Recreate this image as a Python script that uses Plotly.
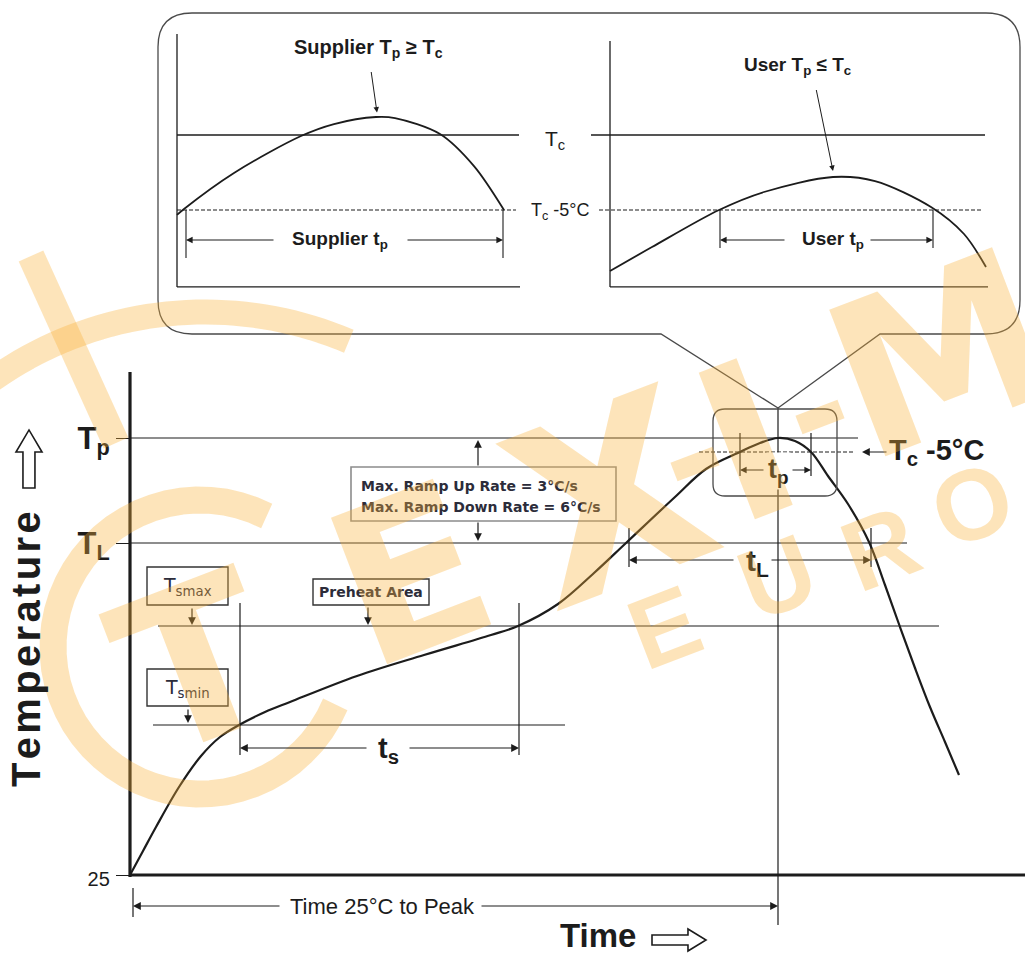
import math
import plotly.graph_objects as go

W, H = 1025, 954
INK = "#1c1c1c"
SANS = "Liberation Sans, Arial"
WM = "rgba(249,178,58,0.35)"   # watermark tint

# ---- main reflow profile (schematic: time in s, temperature in degC) ----
profile_time = [0, 6.5, 13, 24.5, 35.5, 45, 54.5, 67.5, 80, 113.5, 147, 180.5,
                194, 214, 232, 248, 272.5, 288, 305, 315, 324, 332.5, 340.5,
                349, 359, 369.5, 377.5, 385, 392.5, 400, 407.5, 414.5]
profile_temp = [25, 37, 49, 69, 84.5, 94, 100, 106.5, 111.5, 124.5, 135, 145,
                149.5, 160.5, 176, 191, 214, 228, 236.5, 241, 243.5, 242, 236.5,
                224.5, 210.5, 191.5, 170, 149, 128.5, 109, 91.5, 75]

# temperature levels
T_AMB, T_SMIN, T_SMAX, T_L, T_P, T_C5 = 25, 100, 149.5, 191, 243.5, 236.5
temp_ticks = [T_AMB, T_L, T_P]
temp_tick_text = ['<span style="font-size:20px;font-weight:normal">25</span>',
                  "<b>T<sub>L</sub></b>", "<b>T<sub>p</sub></b>"]

# time markers
ts_span = [55, 194.5]
tl_span = [249.5, 370.5]
tp_span = [305, 340.5]
t_peak = 324

# ---- zoomed insets (supplier / user), time from each inset origin ----
sup_time = [0, 7, 57, 124, 157, 199, 218, 263, 297, 327]
sup_temp = [239.67, 240.07, 242.47, 244.93, 245.73, 246.2, 246.13, 245.07, 242.93, 240.0]
user_time = [0, 42, 109, 154, 223, 265, 321, 354, 376]
user_temp = [235.93, 237.53, 240.0, 241.2, 242.2, 241.93, 240.2, 238.4, 236.2]
T_C, T_C_5 = 245, 240
sup_tp = [9, 326]
user_tp = [110, 323]


def P(px, py):
    return px / W, 1 - py / H


def seg(x0, y0, x1, y1, xref="x", yref="y", width=1.2, color=INK, dash=None):
    d = dict(type="line", x0=x0, y0=y0, x1=x1, y1=y1, xref=xref, yref=yref,
             line=dict(color=color, width=width))
    if dash:
        d["line"]["dash"] = dash
    return d


def arrow(xt, yt, xh, yh, xref="x", yref="y", size=1.3, width=1.2):
    return dict(x=xh, y=yh, ax=xt, ay=yt, xref=xref, yref=yref, axref=xref, ayref=yref,
                text="", showarrow=True, arrowhead=2, arrowsize=size, arrowwidth=width,
                arrowcolor=INK, standoff=0)


def label(x, y, text, size, xref="x", yref="y", family=SANS, bold=False,
          color=INK, bg=None, xanchor="center"):
    d = dict(x=x, y=y, xref=xref, yref=yref, text=text, showarrow=False,
             xanchor=xanchor, yanchor="middle",
             font=dict(family=family, size=size, color=color,
                       weight="bold" if bold else "normal"))
    if bg:
        d["bgcolor"] = bg
    return d


def rrect(x0, y0, x1, y1, r):
    return (f"M {x0 + r},{y1} L {x1 - r},{y1} Q {x1},{y1} {x1},{y1 - r} "
            f"L {x1},{y0 + r} Q {x1},{y0} {x1 - r},{y0} L {x0 + r},{y0} "
            f"Q {x0},{y0} {x0},{y0 + r} L {x0},{y1 - r} Q {x0},{y1} {x0 + r},{y1} Z")


def arc(cx, cy, r, a0, a1, n=48):
    pts = []
    for i in range(n + 1):
        a = math.radians(a0 + (a1 - a0) * i / n)
        pts.append(P(cx + r * math.cos(a), cy - r * math.sin(a)))
    return "M " + " L ".join(f"{x:.4f},{y:.4f}" for x, y in pts)


def poly(points):
    pts = [P(x, y) for x, y in points]
    return "M " + " L ".join(f"{x:.4f},{y:.4f}" for x, y in pts) + " Z"


fig = go.Figure()

# main axes lines and profile
fig.add_trace(go.Scatter(x=[0, 0], y=[T_AMB - 1, 276.5], mode="lines",
                         line=dict(color=INK, width=3.2)))
fig.add_trace(go.Scatter(x=[0, 447.5], y=[T_AMB, T_AMB], mode="lines",
                         line=dict(color=INK, width=3.2)))
fig.add_trace(go.Scatter(x=profile_time, y=profile_temp, mode="lines",
                         line=dict(color=INK, width=2.2, shape="spline", smoothing=1.0)))

# inset curves
fig.add_trace(go.Scatter(x=sup_time, y=sup_temp, xaxis="x2", yaxis="y2", mode="lines",
                         line=dict(color=INK, width=1.8, shape="spline", smoothing=0.9)))
fig.add_trace(go.Scatter(x=user_time, y=user_temp, xaxis="x3", yaxis="y3", mode="lines",
                         line=dict(color=INK, width=1.8, shape="spline", smoothing=0.9)))

shapes = []
# level lines
shapes += [
    seg(0, T_P, 364, T_P),
    seg(0, T_L, 388.5, T_L),
    seg(14, T_SMAX, 404.5, T_SMAX),
    seg(11.5, T_SMIN, 217.5, T_SMIN),
    seg(284.5, T_C5, 362, T_C5, dash="4px,2px"),
]
# dimension ticks
for t in ts_span:
    shapes.append(seg(t, 161, t, 85))
for t in tl_span:
    shapes.append(seg(t, 198.5, t, 179))
for t in tp_span:
    shapes.append(seg(t, 246, t, 224.5))
shapes.append(seg(t_peak, 258.5, t_peak, 0))
shapes.append(seg(1.5, 18.5, 1.5, 4))

# boxes
shapes.append(dict(type="rect", x0=110.5, y0=202, x1=243, y1=229, xref="x", yref="y",
                   line=dict(color="#8c8c8c", width=1.6), fillcolor="white"))
shapes.append(dict(type="rect", x0=8.5, y0=160, x1=49, y1=179, xref="x", yref="y",
                   line=dict(color="#333", width=1.4), fillcolor="white"))
shapes.append(dict(type="rect", x0=8.5, y0=109.5, x1=49, y1=128, xref="x", yref="y",
                   line=dict(color="#333", width=1.4), fillcolor="white"))
shapes.append(dict(type="rect", x0=91.5, y0=160, x1=149.5, y1=173, xref="x", yref="y",
                   line=dict(color="#333", width=1.4), fillcolor="white"))

# callout bubble and peak window
x0, x1, yb, yt, r = 14, 445, 295.5, 456, 17
callout = (f"M {x0 + r},{yt} L {x1 - r},{yt} Q {x1},{yt} {x1},{yt - r} "
           f"L {x1},{yb + r} Q {x1},{yb} {x1 - r},{yb} L 375,{yb} L {t_peak},258.5 "
           f"L 265.5,{yb} L {x0 + r},{yb} Q {x0},{yb} {x0},{yb + r} "
           f"L {x0},{yt - r} Q {x0},{yt} {x0 + r},{yt} Z")
shapes.append(dict(type="path", path=callout, xref="x", yref="y",
                   line=dict(color="#4a4a4a", width=1.3)))
shapes.append(dict(type="path", path=rrect(291.5, 214.5, 353.5, 258, 6), xref="x", yref="y",
                   line=dict(color="#4a4a4a", width=1.3)))

# supplier inset frame
shapes += [
    seg(0, 251.73, 0, 234.87, "x2", "y2", 1.3),
    seg(0, 234.87, 343, 234.87, "x2", "y2", 1.3),
    seg(0, T_C, 342, T_C, "x2", "y2", 1.3),
    seg(0, T_C_5, 339, T_C_5, "x2", "y2", 1.1, dash="4px,2px"),
]
for t in sup_tp:
    shapes.append(seg(t, T_C_5, t, 236.8, "x2", "y2", 1.1))
# user inset frame
shapes += [
    seg(0, 251.27, 0, 234.87, "x3", "y3", 1.3),
    seg(0, 234.87, 378, 234.87, "x3", "y3", 1.3),
    seg(-19, T_C, 375, T_C, "x3", "y3", 1.3),
    seg(-11, T_C_5, 371, T_C_5, "x3", "y3", 1.1, dash="4px,2px"),
]
for t in user_tp:
    shapes.append(seg(t, T_C_5, t, 237.47, "x3", "y3", 1.1))

# hollow axis arrows
shapes.append(dict(type="path", xref="paper", yref="paper", line=dict(color=INK, width=1.6),
                   path=poly([(23, 488), (23, 452), (16, 452), (29, 430), (42, 452), (35, 452), (35, 488)])))
shapes.append(dict(type="path", xref="paper", yref="paper", line=dict(color=INK, width=1.6),
                   path=poly([(652, 935), (688, 935), (688, 929), (706, 940), (688, 951), (688, 945), (652, 945)])))

# watermark strokes
shapes.append(dict(type="path", xref="paper", yref="paper", path=arc(200, 647, 147, 63, 337),
                   line=dict(color=WM, width=27)))
shapes.append(dict(type="path", xref="paper", yref="paper", path=arc(205, 680, 368, 67, 140),
                   line=dict(color=WM, width=25)))
for (ax_, ay_), (bx_, by_), w in [((31, 256), (116, 443), 27),
                                  ((674, 472), (716, 456), 20),
                                  ((799, 425), (841, 409), 20)]:
    xa, ya = P(ax_, ay_)
    xb, yb2 = P(bx_, by_)
    shapes.append(dict(type="line", xref="paper", yref="paper", x0=xa, y0=ya, x1=xb, y1=yb2,
                       line=dict(color=WM, width=w)))

ann = []
# dimension arrows
ann += [arrow(119, 88.5, ts_span[0], 88.5), arrow(139, 88.5, ts_span[1], 88.5),
        arrow(302.5, 182.5, tl_span[0], 182.5), arrow(320, 182.5, tl_span[1], 182.5),
        arrow(317.5, 227.5, tp_span[0], 227.5, size=1.1), arrow(330.5, 227.5, tp_span[1], 227.5, size=1.1),
        arrow(75.5, 9.5, 1.5, 9.5), arrow(175, 9.5, t_peak, 9.5),
        arrow(174, 229, 174, 242.5), arrow(174, 202, 174, 192),
        arrow(31, 159, 31, 150), arrow(29, 108.5, 29, 101), arrow(119, 159.5, 119, 150),
        arrow(379, T_C5, 366, T_C5)]
# inset arrows
ann += [arrow(98, 238, sup_tp[0], 238, "x2", "y2", 1.2, 1.1),
        arrow(229, 238, sup_tp[1], 238, "x2", "y2", 1.2, 1.1),
        arrow(176, 238, user_tp[0], 238, "x3", "y3", 1.2, 1.1),
        arrow(259, 238, user_tp[1], 238, "x3", "y3", 1.2, 1.1),
        arrow(194, 249.3, 200, 246.5, "x2", "y2", 1.1, 1.0),
        arrow(206, 248.1, 223, 242.6, "x3", "y3", 1.1, 1.0)]

# main labels
ann += [
    label(114.5, 219.5, "Max. Ramp Up Rate = 3°C/s", 14, family="DejaVu Sans", bold=True,
          color="#2c2c3a", xanchor="left"),
    label(114.5, 209, "Max. Ramp Down Rate = 6°C/s", 14, family="DejaVu Sans", bold=True,
          color="#2c2c3a", xanchor="left"),
    label(120.5, 166.5, "Preheat Area", 14, family="DejaVu Sans", bold=True, color="#2c2c3a"),
    label(28.5, 169.5, "T<sub>smax</sub>", 19, family="DejaVu Sans", color="#2c2c3a"),
    label(28.5, 118.5, "T<sub>smin</sub>", 19, family="DejaVu Sans", color="#2c2c3a"),
    label(129, 87.5, "t<sub>s</sub>", 29, bold=True),
    label(313.5, 181.5, "t<sub>L</sub>", 30, bold=True),
    label(t_peak, 227, "t<sub>p</sub>", 27, bold=True, bg="white"),
    label(403, T_C5, "T<sub>c</sub> -5°C", 29, bold=True),
    label(126, 9.5, "Time 25°C to Peak", 22),
]
# inset labels
ann += [
    label(191, 250.8, "Supplier T<sub>p</sub> ≥ T<sub>c</sub>", 20, "x2", "y2", SANS, True),
    label(163, 238, "Supplier t<sub>p</sub>", 19, "x2", "y2", SANS, True),
    label(378, 244.67, "T<sub>c</sub>", 21, "x2", "y2", SANS),
    label(383, 239.87, "T<sub>c</sub> -5°C", 18, "x2", "y2", SANS),
    label(187, 249.6, "User T<sub>p</sub> ≤ T<sub>c</sub>", 19, "x3", "y3", SANS, True),
    label(223, 238, "User t<sub>p</sub>", 19, "x3", "y3", SANS, True),
]
# axis titles
px_, py_ = P(26, 649)
ann.append(dict(x=px_, y=py_, xref="paper", yref="paper", showarrow=False, textangle=-90,
                xanchor="center", yanchor="middle",
                text="T\u200ae\u200am\u200ap\u200ae\u200ar\u200aa\u200at\u200au\u200ar\u200ae",
                font=dict(family=SANS, size=40, color=INK, weight="bold")))
px_, py_ = P(598, 935)
ann.append(dict(x=px_, y=py_, xref="paper", yref="paper", showarrow=False, text="Time",
                xanchor="center", yanchor="middle",
                font=dict(family=SANS, size=33, color=INK, weight="bold")))

# watermark letters
for ch, lx, ly, sz, fam in [("T", 195, 665, 215, "DejaVu Sans"), ("E", 410, 575, 215, "DejaVu Sans"),
                            ("X", 610, 500, 245, "DejaVu Sans"), ("I", 747, 442, 215, "DejaVu Sans"),
                            ("M", 940, 355, 215, "DejaVu Sans"),
                            ("E", 664, 627, 100, SANS), ("U", 777, 577, 100, SANS),
                            ("R", 880, 548, 100, SANS), ("O", 972, 504, 100, SANS)]:
    wx, wy = P(lx, ly)
    ann.append(dict(x=wx, y=wy, xref="paper", yref="paper", showarrow=False, text=ch,
                    textangle=-21, xanchor="center", yanchor="middle",
                    font=dict(family=fam, size=sz, color=WM, weight="bold")))

fig.update_layout(
    template="none",
    width=W, height=H,
    margin=dict(l=0, r=0, t=0, b=0),
    paper_bgcolor="white", plot_bgcolor="rgba(0,0,0,0)",
    showlegend=False, hovermode=False,
    font=dict(family=SANS, color=INK),
    shapes=shapes, annotations=ann,
    xaxis=dict(domain=[0, 1], range=[-65, 447.5], visible=False, automargin=False),
    yaxis=dict(domain=[0, 1], range=[-14.5, 462.5], anchor="free", position=130 / W,
               showline=False, showgrid=False, zeroline=False, automargin=False,
               ticks="outside", ticklen=14, tickwidth=1.2, tickcolor=INK,
               tickvals=temp_ticks, ticktext=temp_tick_text,
               tickfont=dict(family=SANS, size=31, color=INK)),
    xaxis2=dict(domain=[0, 1], range=[-177, 848], visible=False, overlaying="x", anchor="y2"),
    yaxis2=dict(domain=[0, 1], range=[190.4, 254], visible=False, overlaying="y", anchor="x2"),
    xaxis3=dict(domain=[0, 1], range=[-610, 415], visible=False, overlaying="x", anchor="y3"),
    yaxis3=dict(domain=[0, 1], range=[190.4, 254], visible=False, overlaying="y", anchor="x3"),
)

fig.write_html("out.html", config={"displayModeBar": False},
               post_script="document.body.style.margin='0px';")
